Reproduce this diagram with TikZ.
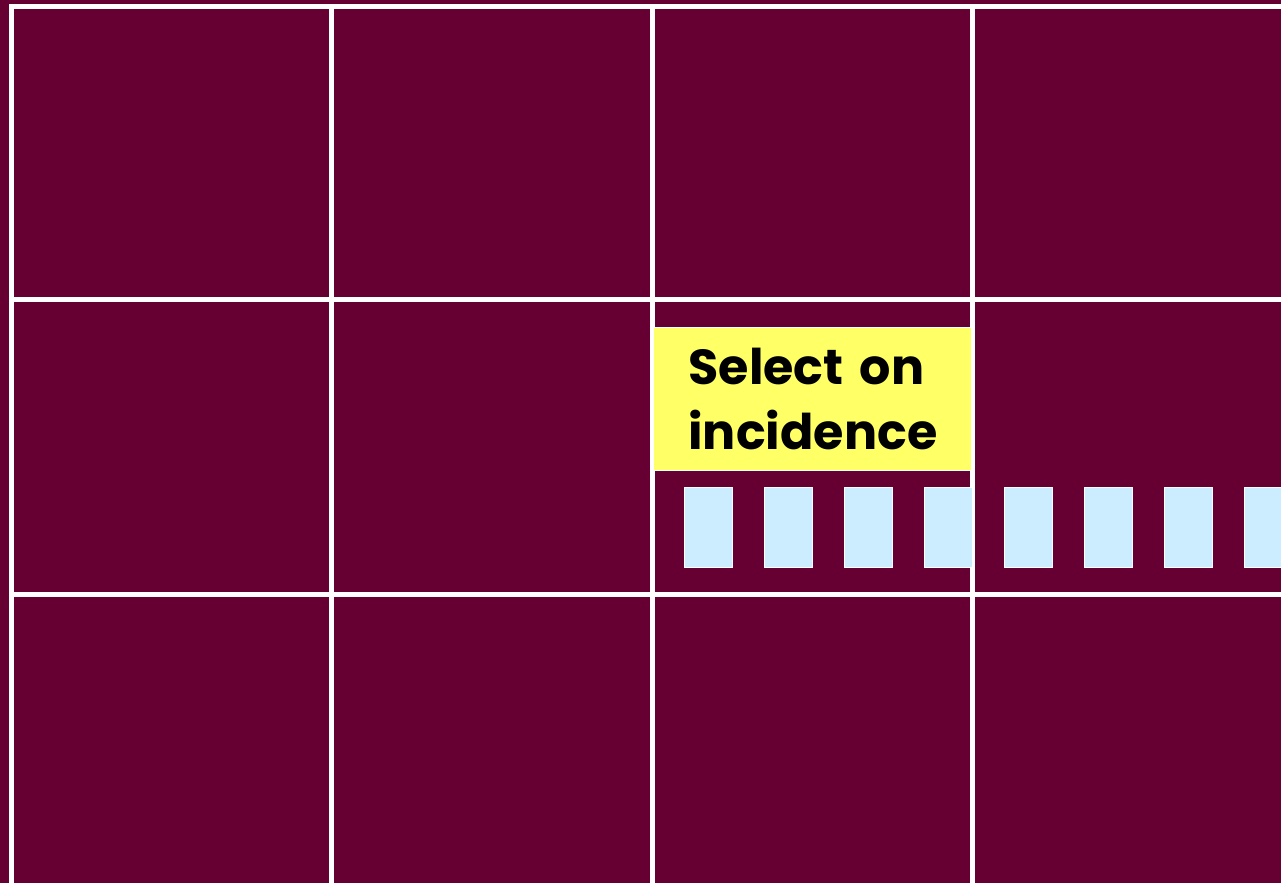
\documentclass[tikz,border=0pt]{standalone}
\usepackage{fontspec}
\setmainfont{Poppins}
\usetikzlibrary{positioning}
\definecolor{maroon}{HTML}{660033}
\definecolor{noteyellow}{HTML}{FFFF66}
\definecolor{cellblue}{HTML}{CCECFF}

\begin{document}
\begin{tikzpicture}[
  x=0.02cm, y=-0.02cm,
  gridline/.style={draw=white,line width=0.1cm},
  note/.style={fill=noteyellow,draw=white,line width=0.5pt,anchor=north west,
    text width=4.96cm,inner xsep=0.7cm,inner ysep=0pt,minimum height=2.86cm,
    align=left,font=\fontsize{28}{37}\selectfont\bfseries},
  cell/.style={fill=cellblue,draw=white,line width=0.6pt,anchor=north west,
    minimum width=0.96cm,minimum height=1.6cm,inner sep=0pt}
]
\useasboundingbox (0,0) rectangle (1281,883);
\clip (0,0) rectangle (1281,883);
\fill[maroon] (0,0) rectangle (1281,883);
% grid
\foreach \gx in {11.5,331.5,652,972}
  \draw[gridline] (\gx,4) -- (\gx,883);
\foreach \gy in {6.5,299.5,594}
  \draw[gridline] (9,\gy) -- (1281,\gy);
% note and cells
\node[note] (sel) at (653,327) {Select on\\incidence};
\foreach \i in {0,...,7}
  \node[cell] (c\i) at (684+80*\i,487) {};
\end{tikzpicture}
\end{document}
